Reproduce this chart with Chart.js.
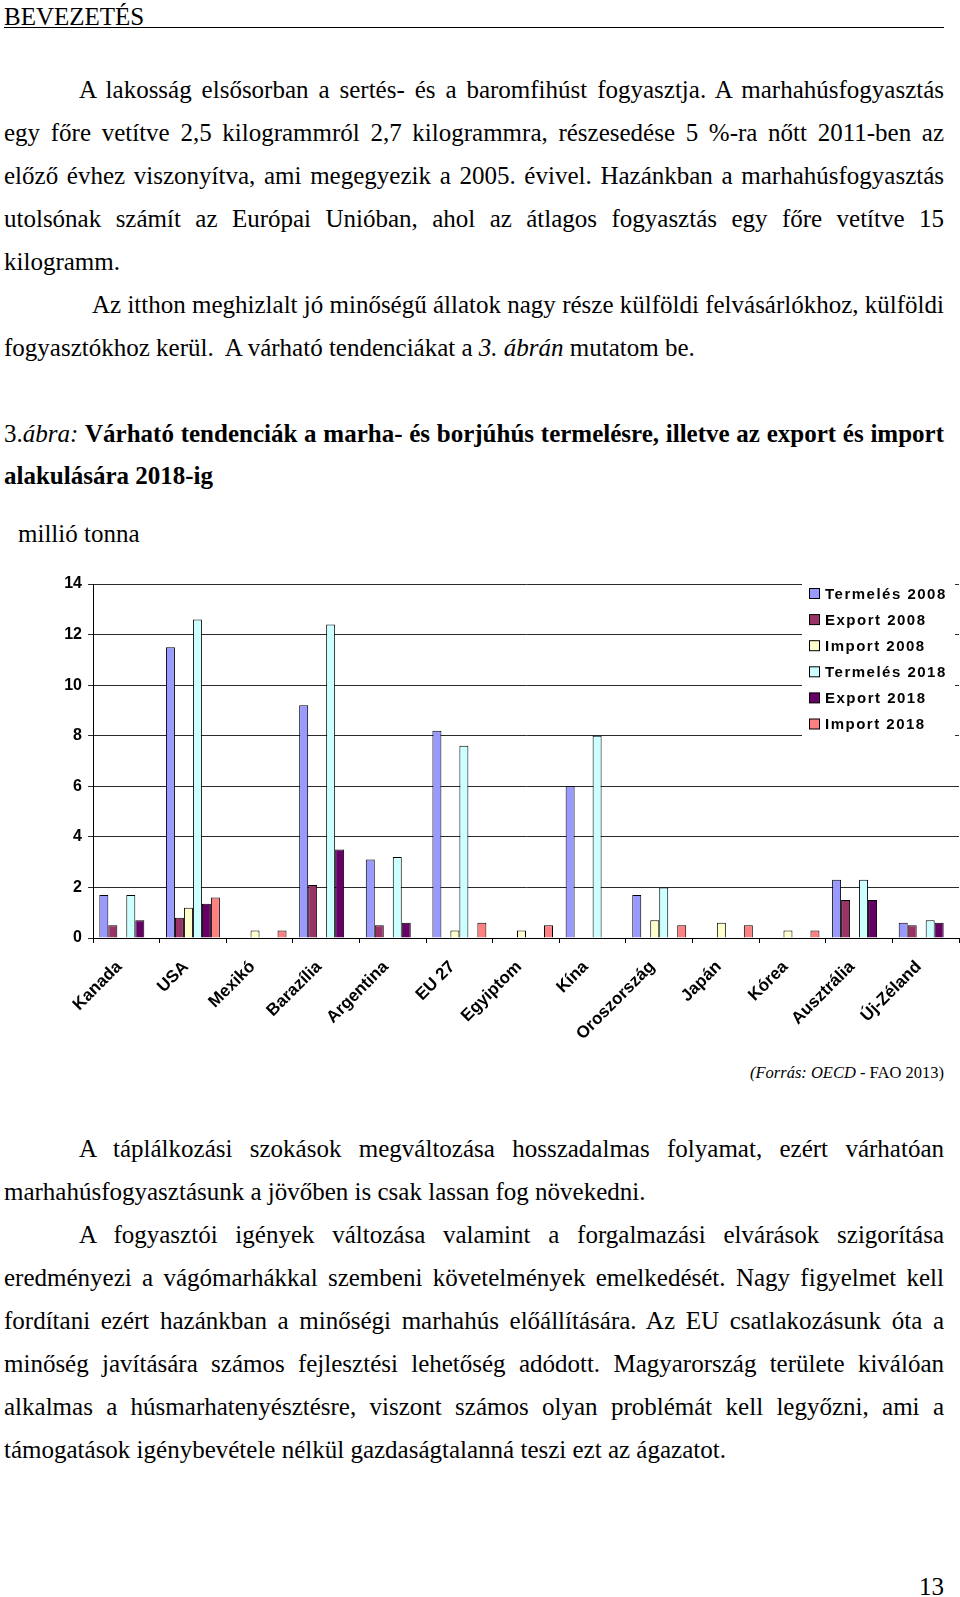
<!DOCTYPE html>
<html lang="hu">
<head>
<meta charset="utf-8">
<title>3. ábra</title>
<script src="https://cdn.jsdelivr.net/npm/chart.js@4/dist/chart.umd.min.js"></script>
<style>
  html, body { margin: 0; padding: 0; background: #fff; }
  body { width: 960px; height: 1597px; position: relative; overflow: hidden;
         font-family: "Liberation Serif", "Times New Roman", serif; color: #000; }
  .ln { position: absolute; font-size: 25px; line-height: 25px; white-space: nowrap; }
  .j  { text-align: justify; text-align-last: justify; }
  .full { left: 4px; width: 940px; }
  .ind  { left: 79px; width: 865px; }
  #head { position: absolute; left: 4px; top: 4px; width: 940px; font-size: 25px;
          line-height: 25px; border-bottom: 1.5px solid #000; height: 23px; }
  #chartBox { position: absolute; left: 0; top: 560px; width: 960px; height: 480px; }
</style>
</head>
<body>

<div id="head">BEVEZETÉS</div>

<div class="ln j ind" style="top:77px">A lakosság elsősorban a sertés- és a baromfihúst fogyasztja. A marhahúsfogyasztás</div>
<div class="ln j full" style="top:120px">egy főre vetítve 2,5 kilogrammról 2,7 kilogrammra, részesedése 5 %-ra nőtt 2011-ben az</div>
<div class="ln j full" style="top:163px">előző évhez viszonyítva, ami megegyezik a 2005. évivel. Hazánkban a marhahúsfogyasztás</div>
<div class="ln j full" style="top:206px">utolsónak számít az Európai Unióban, ahol az átlagos fogyasztás egy főre vetítve 15</div>
<div class="ln full" style="top:249px">kilogramm.</div>
<div class="ln j" style="top:292px; left:92px; width:852px">Az itthon meghizlalt jó minőségű állatok nagy része külföldi felvásárlókhoz, külföldi</div>
<div class="ln full" style="top:335px">fogyasztókhoz kerül.&nbsp; A várható tendenciákat a <i>3. ábrán</i> mutatom be.</div>

<div class="ln j full" style="top:421px">3.<i>ábra:</i> <b>Várható tendenciák a marha- és borjúhús termelésre, illetve az export és import</b></div>
<div class="ln full" style="top:463px"><b>alakulására 2018-ig</b></div>
<div class="ln" style="top:521px; left:18px">millió tonna</div>

<div id="chartBox"><canvas id="beefChart"></canvas></div>

<div class="ln" style="top:1065px; left:600px; width:344px; text-align:right; font-size:16.5px; line-height:16.5px"><i>(Forrás: OECD</i> - FAO 2013)</div>

<div class="ln j ind" style="top:1136px">A táplálkozási szokások megváltozása hosszadalmas folyamat, ezért várhatóan</div>
<div class="ln full" style="top:1179px">marhahúsfogyasztásunk a jövőben is csak lassan fog növekedni.</div>
<div class="ln j ind" style="top:1222px">A fogyasztói igények változása valamint a forgalmazási elvárások szigorítása</div>
<div class="ln j full" style="top:1265px">eredményezi a vágómarhákkal szembeni követelmények emelkedését. Nagy figyelmet kell</div>
<div class="ln j full" style="top:1308px">fordítani ezért hazánkban a minőségi marhahús előállítására. Az EU csatlakozásunk óta a</div>
<div class="ln j full" style="top:1351px">minőség javítására számos fejlesztési lehetőség adódott. Magyarország területe kiválóan</div>
<div class="ln j full" style="top:1394px">alkalmas a húsmarhatenyésztésre, viszont számos olyan problémát kell legyőzni, ami a</div>
<div class="ln full" style="top:1437px">támogatások igénybevétele nélkül gazdaságtalanná teszi ezt az ágazatot.</div>

<div class="ln" style="top:1574px; left:844px; width:100px; text-align:right">13</div>

<script>
// ---- data (million tonnes); null = no bar ----
const countries = ['Kanada', 'USA', 'Mexikó', 'Barazília', 'Argentina', 'EU 27', 'Egyiptom',
                   'Kína', 'Oroszország', 'Japán', 'Kórea', 'Ausztrália', 'Új-Zéland'];

const termeles2008 = [1.7, 11.5, null, 9.2, 3.1, 8.2, null, 6.0, 1.7, null, null, 2.3, 0.6];
const export2008   = [0.5, 0.8, null, 2.1, 0.5, null, null, null, null, null, null, 1.5, 0.5];
const import2008   = [null, 1.2, 0.3, null, null, 0.3, 0.3, null, 0.7, 0.6, 0.3, null, null];
const termeles2018 = [1.7, 12.6, null, 12.4, 3.2, 7.6, null, 8.0, 2.0, null, null, 2.3, 0.7];
const export2018   = [0.7, 1.35, null, 3.5, 0.6, null, null, null, null, null, null, 1.5, 0.6];
const import2018   = [null, 1.6, 0.3, null, null, 0.6, 0.5, null, 0.5, 0.5, 0.3, null, null];

const yTicks = [0, 2, 4, 6, 8, 10, 12, 14];

const FONT = '"Liberation Sans", Arial, sans-serif';

function series(label, data, color) {
  return {
    label: label,
    data: data,
    backgroundColor: color,
    borderColor: '#000',
    borderWidth: 1,
    borderSkipped: 'start',
    categoryPercentage: 0.81,
    barPercentage: 1.0
  };
}

// legend drawn over the plot area, like the Excel original
const overlayLegend = {
  id: 'overlayLegend',
  afterDraw(chart) {
    const ctx = chart.ctx;
    const right = chart.chartArea.right;
    const x0 = right - 157;
    ctx.save();
    ctx.fillStyle = '#fff';
    ctx.fillRect(x0, 16, 153, 164);
    ctx.font = 'bold 15px ' + FONT;
    ctx.letterSpacing = '1.5px';
    ctx.textBaseline = 'middle';
    ctx.textAlign = 'left';
    chart.data.datasets.forEach((ds, i) => {
      const cy = 33.5 + i * 26.1;
      ctx.fillStyle = ds.backgroundColor;
      ctx.fillRect(x0 + 7.5, cy - 5, 10, 10);
      ctx.strokeStyle = '#000';
      ctx.lineWidth = 1;
      ctx.strokeRect(x0 + 7.5, cy - 5, 10, 10);
      ctx.fillStyle = '#000';
      ctx.fillText(ds.label, x0 + 23, cy + 1);
    });
    ctx.restore();
  }
};

new Chart(document.getElementById('beefChart'), {
  type: 'bar',
  data: {
    labels: countries,
    datasets: [
      series('Termelés 2008', termeles2008, '#9999FF'),
      series('Export 2008', export2008, '#993366'),
      series('Import 2008', import2008, '#FFFFCC'),
      series('Termelés 2018', termeles2018, '#CCFFFF'),
      series('Export 2018', export2018, '#660066'),
      series('Import 2018', import2018, '#FF8080')
    ]
  },
  options: {
    responsive: true,
    maintainAspectRatio: false,
    animation: false,
    layout: { padding: { top: 24, right: 1, left: 0, bottom: 0 } },
    plugins: {
      legend: { display: false },
      tooltip: { enabled: false }
    },
    scales: {
      x: {
        grid: { drawOnChartArea: false, color: '#000', tickLength: 5, offset: true },
        border: { color: '#000', width: 1 },
        ticks: {
          color: '#000',
          font: { family: FONT, size: 17, weight: 'bold' },
          minRotation: 45,
          maxRotation: 45,
          autoSkip: false,
          padding: 14,
          labelOffset: -7
        },
        afterFit(scale) { scale.height = 102; }
      },
      y: {
        min: 0,
        max: 14,
        afterBuildTicks(scale) { scale.ticks = yTicks.map(v => ({ value: v })); },
        grid: { color: '#2a2a2a', lineWidth: 1, tickLength: 5 },
        border: { color: '#000', width: 1 },
        ticks: {
          color: '#000',
          font: { family: FONT, size: 16, weight: 'bold' },
          padding: 6
        },
        afterFit(scale) { scale.width = 93; }
      }
    }
  },
  plugins: [overlayLegend]
});
</script>
</body>
</html>
